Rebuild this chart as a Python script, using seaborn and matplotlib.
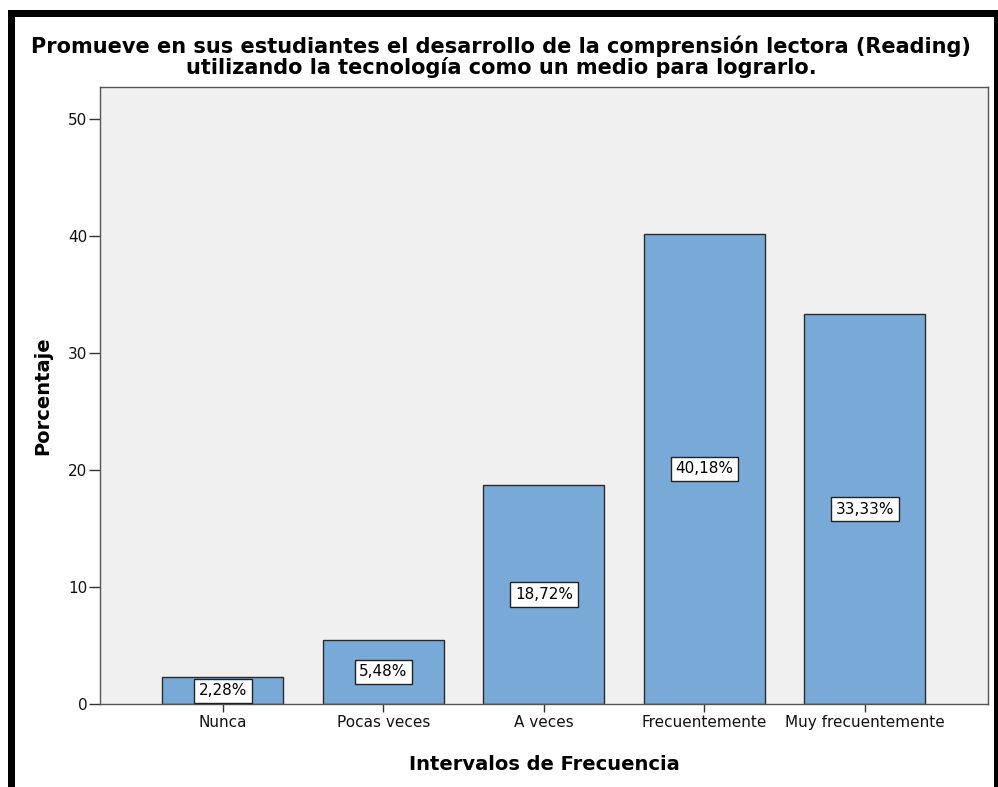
import matplotlib
matplotlib.use("Agg")
import matplotlib.pyplot as plt
import seaborn as sns
import pandas as pd
from matplotlib.patches import Rectangle

categories = ["Nunca", "Pocas veces", "A veces", "Frecuentemente", "Muy frecuentemente"]
percentages = [2.28, 5.48, 18.72, 40.18, 33.33]
y_ticks = [0, 10, 20, 30, 40, 50]
title_text = ("Promueve en sus estudiantes el desarrollo de la comprensión lectora (Reading)\n"
              "utilizando la tecnología como un medio para lograrlo.")
xlabel_text = "Intervalos de Frecuencia"
ylabel_text = "Porcentaje"

df = pd.DataFrame({"cat": categories, "pct": percentages})

sns.set_theme(style="white")
plt.rcParams["font.family"] = ["DejaVu Sans"]

fig = plt.figure(figsize=(9.98, 7.87), dpi=100)
fig.patch.set_facecolor("white")

# black frame
fig.patches.append(Rectangle((8/998, 0), 7/998, 1 - 10/787, transform=fig.transFigure,
                             facecolor="black", edgecolor="none", zorder=0))
fig.patches.append(Rectangle((8/998, 1 - 17/787), (998-8)/998, 7/787, transform=fig.transFigure,
                             facecolor="black", edgecolor="none", zorder=0))
fig.patches.append(Rectangle((994/998, 0), 4/998, 1 - 10/787, transform=fig.transFigure,
                             facecolor="black", edgecolor="none", zorder=0))

ax = fig.add_axes([100/998, 1 - 704/787, (988-100)/998, (704-87)/787])
ax.set_facecolor("#F0F0F0")

sns.barplot(data=df, x="cat", y="pct", ax=ax, color="#79A9D7", saturation=1,
            width=0.754, edgecolor="#2A2A2A", linewidth=1.0)

labels = [f"{v:.2f}".replace(".", ",") + "%" for v in percentages]
ax.bar_label(ax.containers[0], labels=labels, label_type="center", fontsize=11,
             color="black",
             bbox=dict(boxstyle="square,pad=0.3", facecolor="white", edgecolor="#222222", linewidth=1.0))

ax.set_xlim(-0.766, 4.767)
ax.set_ylim(0, 52.74)
ax.set_yticks(y_ticks)
ax.set_yticklabels([str(t) for t in y_ticks])

for s in ax.spines.values():
    s.set_color("#555555")
    s.set_linewidth(1.0)
    s.set_visible(True)

ax.tick_params(axis="y", which="major", length=8, width=1, color="#333333",
               labelsize=11, labelcolor="#111111", direction="out", left=True, pad=1)
ax.tick_params(axis="x", which="major", length=6, width=1, color="#333333",
               labelsize=11, labelcolor="#111111", direction="out", bottom=True, pad=2)

ax.set_xlabel(xlabel_text, fontsize=14, fontweight="bold", color="black", va="center")
ax.xaxis.set_label_coords(0.5, -61/617)
ax.set_ylabel(ylabel_text, fontsize=14, fontweight="bold", color="black", va="center", ha="center")
ax.yaxis.set_label_coords(-57/888, 0.5)

fig.text(501/998, 1 - 57/787, title_text, ha="center", va="center", fontsize=15,
         fontweight="bold", color="black", linespacing=1.02)

fig.savefig("out.png", dpi=100, facecolor="white")
